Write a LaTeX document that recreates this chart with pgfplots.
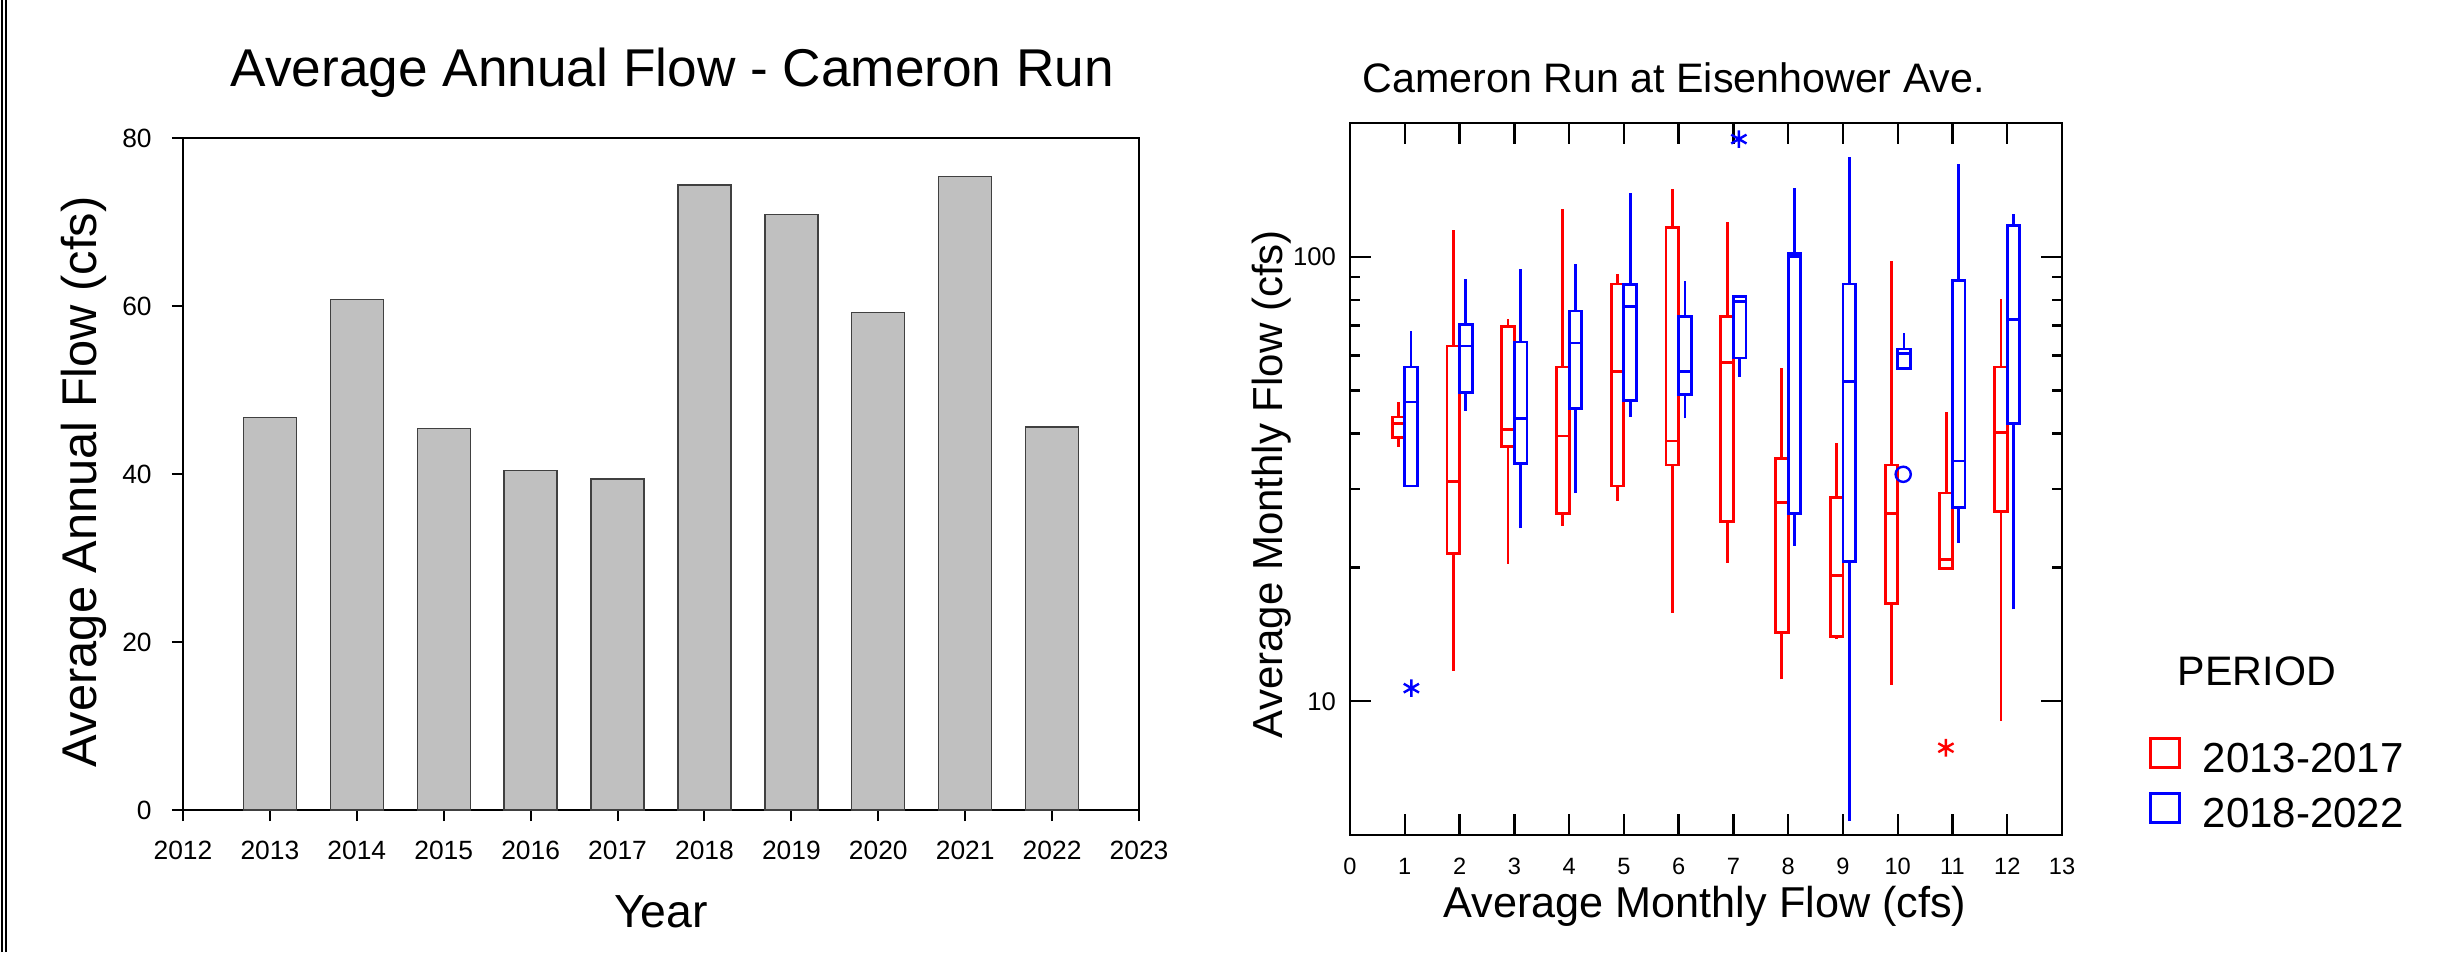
\documentclass[border=0pt]{standalone}
\usepackage{fontspec}
\setmainfont{Liberation Sans}
\usepackage{pgfplots}
\pgfplotsset{compat=1.18}
\newcommand{\fs}[1]{\fontsize{#1}{#1}\selectfont}
\definecolor{barfill}{RGB}{192,192,192}
% box: colour, left, right, centre, lower whisker, lower quartile, median, upper quartile, upper whisker
\newcommand{\bx}[9]{%
  \addplot[#1, line width=0.7pt, unbounded coords=jump, forget plot, line join=miter]
    coordinates {(#2,#6) (#3,#6) (#3,#8) (#2,#8) (#2,#6) (#3,#6) (nan,nan)
                 (#2,#7) (#3,#7) (nan,nan)
                 (#4,#8) (#4,#9) (nan,nan)
                 (#4,#5) (#4,#6)};}
\begin{document}
\begin{tikzpicture}
\useasboundingbox (0,0) rectangle (614.75pt,238pt);
\draw[line width=0.5pt] (0.45pt,0) -- (0.45pt,238pt);
\draw[line width=0.6pt] (1.5pt,0) -- (1.5pt,238pt);

% ---------------- left: bar chart ----------------
\begin{axis}[at={(45.75pt,35.5pt)}, anchor=south west, scale only axis,
  width=239pt, height=168pt,
  xmin=2012, xmax=2023, ymin=0, ymax=80,
  xtick={2012,2013,2014,2015,2016,2017,2018,2019,2020,2021,2022,2023},
  xticklabels={2012,2013,2014,2015,2016,2017,2018,2019,2020,2021,2022,2023},
  ytick={0,20,40,60,80}, yticklabels={0,20,40,60,80},
  tick align=outside, xtick pos=left, ytick pos=left, major tick length=2.8pt,
  tick style={black, line width=0.5pt},
  axis line style={line width=0.55pt},
  tick label style={font=\fs{6.6}},
  xticklabel style={yshift=-1.5pt}, yticklabel style={xshift=-1.5pt},
  clip=false]
\addplot[ybar, bar width=13.25pt, fill=barfill, draw=black!75, line width=0.35pt]
  coordinates {(2013,46.7) (2014,60.8) (2015,45.4) (2016,40.4) (2017,39.4)
               (2018,74.4) (2019,70.9) (2020,59.2) (2021,75.4) (2022,45.6)};
\end{axis}

% ---------------- right: box plots ----------------
\begin{axis}[at={(337.5pt,29.25pt)}, anchor=south west, scale only axis,
  width=178pt, height=178pt,
  ymode=log, xmin=0, xmax=13, ymin=5, ymax=200,
  xtick={0,1,2,3,4,5,6,7,8,9,10,11,12,13},
  xticklabels={0,1,2,3,4,5,6,7,8,9,10,11,12,13},
  ytick={10,100}, yticklabels={10,100},
  minor ytick={20,30,40,50,60,70,80,90},
  tick align=inside, xtick pos=both, ytick pos=both,
  major tick length=5.25pt, minor tick length=2.5pt,
  tick style={black, line width=0.6pt},
  axis line style={line width=0.7pt},
  xticklabel style={font=\fs{5.9}, yshift=-2.2pt},
  yticklabel style={font=\fs{6.4}},
  legend image code/.code={\draw[#1, line width=0.7pt] (0pt,0pt) rectangle (7.25pt,7.25pt);},
  legend style={at={(axis description cs:1.1222,0.1376)}, anchor=north west,
    draw=none, fill=none, inner sep=0pt, outer sep=0pt, row sep=0pt, column sep=5.5pt,
    font=\fs{10.5}, nodes={inner sep=0pt, text height=7.5pt, text depth=4.75pt}},
  legend cell align=left,
  clip=false]
% 2013-2017 (red)
\bx{red}{0.77}{1}{0.885}{37.4}{39.2}{42.1}{43.6}{47.1}
\bx{red}{1.77}{2}{1.885}{11.7}{21.5}{31.2}{63.0}{114.7}
\bx{red}{2.77}{3}{2.885}{20.4}{37.5}{40.9}{69.6}{72.3}
\bx{red}{3.77}{4}{3.885}{24.8}{26.4}{39.5}{56.5}{127.8}
\bx{red}{4.77}{5}{4.885}{28.2}{30.5}{55.3}{86.8}{91.6}
\bx{red}{5.77}{6}{5.885}{15.8}{34.0}{38.5}{116.2}{141.8}
\bx{red}{6.77}{7}{6.885}{20.5}{25.4}{57.8}{73.5}{119.8}
\bx{red}{7.77}{8}{7.885}{11.2}{14.3}{28.0}{35.1}{56.3}
\bx{red}{8.77}{9}{8.885}{13.8}{14.0}{19.2}{28.7}{38.2}
\bx{red}{9.77}{10}{9.885}{10.9}{16.6}{26.4}{34.0}{97.7}
\bx{red}{10.77}{11}{10.885}{19.9}{19.9}{20.8}{29.4}{44.8}
\bx{red}{11.77}{12}{11.885}{9.04}{26.7}{40.2}{56.5}{80.3}
% 2018-2022 (blue)
\bx{blue}{1}{1.23}{1.115}{30.5}{30.5}{47.1}{56.5}{68.2}
\bx{blue}{2}{2.23}{2.115}{45.0}{49.6}{63.0}{70.4}{89.3}
\bx{blue}{3}{3.23}{3.115}{24.5}{34.2}{43.3}{64.3}{94.0}
\bx{blue}{4}{4.23}{4.115}{29.4}{45.6}{64.0}{75.5}{96.2}
\bx{blue}{5}{5.23}{5.115}{43.6}{47.5}{77.2}{86.6}{139.2}
\bx{blue}{6}{6.23}{6.115}{43.3}{48.9}{55.2}{73.5}{88.1}
\bx{blue}{7}{7.23}{7.115}{53.7}{59.2}{79.2}{81.5}{81.5}
\bx{blue}{8}{8.23}{8.115}{22.4}{26.4}{100.3}{101.8}{142.8}
\bx{blue}{9}{9.23}{9.115}{5.38}{20.6}{52.5}{86.8}{167.7}
\bx{blue}{10}{10.23}{10.115}{56.1}{56.1}{60.7}{62.0}{67.2}
\bx{blue}{11}{11.23}{11.115}{22.7}{27.3}{34.7}{88.3}{161.3}
\bx{blue}{12}{12.23}{12.115}{16.1}{42.1}{72.4}{117.7}{124.9}
% outliers
\addplot[blue, only marks, mark=asterisk, mark size=2.2pt, line width=0.6pt, forget plot] coordinates {(1.12,10.7) (7.10,184)};
\addplot[red, only marks, mark=asterisk, mark size=2.2pt, line width=0.6pt, forget plot] coordinates {(10.88,7.86)};
\addplot[blue, only marks, mark=o, mark size=1.9pt, line width=0.6pt, forget plot] coordinates {(10.10,32.4)};
\addlegendimage{red}
\addlegendentry{2013-2017}
\addlegendimage{blue}
\addlegendentry{2018-2022}
\end{axis}

% ---------------- text ----------------
\node[anchor=base, font=\fs{13.3}, inner sep=0pt] at (168.1pt,216.25pt) {Average Annual Flow - Cameron Run};
\node[anchor=base, font=\fs{11.6}, inner sep=0pt] at (165.25pt,6pt) {Year};
\node[anchor=base, rotate=90, font=\fs{12.2}, inner sep=0pt] at (24pt,117.5pt) {Average Annual Flow (cfs)};
\node[anchor=base west, font=\fs{10.3}, inner sep=0pt] at (340.5pt,214.75pt) {Cameron Run at Eisenhower Ave.};
\node[anchor=base west, font=\fs{10.8}, inner sep=0pt] at (360.75pt,8.75pt) {Average Monthly Flow (cfs)};
\node[anchor=base, rotate=90, font=\fs{10.5}, inner sep=0pt] at (320.5pt,117pt) {Average Monthly Flow (cfs)};
\node[anchor=base west, font=\fs{10.3}, inner sep=0pt] at (544.25pt,66.5pt) {PERIOD};
\end{tikzpicture}
\end{document}
